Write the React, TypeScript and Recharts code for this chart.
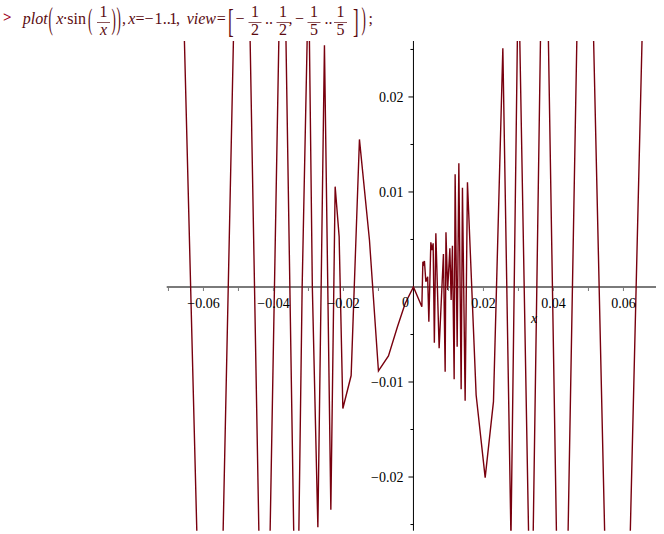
import React from 'react';
import { LineChart, Line, XAxis, YAxis, ReferenceLine, ReferenceDot } from 'recharts';

const X_VALUES = [
  -0.078, -0.06675, -0.06057, -0.05548, -0.05092, -0.0471, -0.04372, -0.0414,
  -0.03817, -0.03668, -0.03403, -0.0329, -0.0318, -0.03015, -0.02985, -0.02889,
  -0.02731, -0.02543, -0.0236, -0.02237, -0.02123, -0.02017, -0.0178, -0.01543,
  -0.01257, -0.01, -0.00714, -0.00457, -0.00237, 0,
  0.0024, 0.00269, 0.00291, 0.00314, 0.00354, 0.00406, 0.0044, 0.00497,
  0.00529, 0.00563, 0.00597, 0.0064, 0.00734, 0.00857, 0.00906, 0.00929,
  0.00977, 0.0104, 0.01077, 0.01114, 0.01163, 0.01191, 0.01249, 0.01297,
  0.01363, 0.014, 0.01477, 0.01543, 0.01791, 0.02049, 0.02286, 0.02554,
  0.02786, 0.02983, 0.03019, 0.03326, 0.03391, 0.03673, 0.03807, 0.04157,
  0.0434, 0.04784, 0.05001, 0.05653, 0.05993, 0.06784, 0.078,
];
const Y_VALUES = [
  0.05, 0.045, -0.045, -0.045, 0.035, 0.035, -0.035, -0.035,
  0.032, 0.032, -0.03, -0.03, 0, 0.03, 0.03, 0,
  -0.02529, 0.02544, -0.02344, 0.01056, 0.0053, -0.01279, -0.00932, 0.01553,
  0.00495, -0.00884, -0.00726, -0.00418, -0.00174, 0,
  -0.00207, 0.00266, 0.00242, 0.00274, 0.00056, 0.00108, -0.00365, 0.00471,
  0.00389, 0.0046, -0.00586, 0.00565, -0.00645, 0.00347, -0.00892, 0.00576,
  -0.00032, 0.00407, -0.00137, 0.00435, -0.00972, 0.01186, -0.00628, 0.01302,
  -0.01077, 0.01045, -0.01197, 0.01102, -0.01137, -0.02007, -0.01207, 0.02513,
  -0.02647, 0.03, 0.03, -0.0335, -0.0335, 0.037, 0.037, -0.042,
  -0.042, 0.05, 0.05, -0.057, -0.057, 0.065, 0.06,
];

const X_DOMAIN = [-0.0705, 0.0693];
const Y_DOMAIN = [-0.02565, 0.02589];

const X_TICKS = [-0.07, -0.06, -0.05, -0.04, -0.03, -0.02, -0.01, 0.01, 0.02, 0.03, 0.04, 0.05, 0.06];
const X_TICK_LABELS = ['', '\u22120.06', '', '\u22120.04', '', '\u22120.02', '', '', '0.02', '', '0.04', '', '0.06'];
const Y_TICKS = [-0.02, -0.01, 0.01, 0.02];
const Y_TICK_LABELS = ['\u22120.02', '\u22120.01', '0.01', '0.02'];
const Y_MINOR_TICKS = [-0.025, -0.015, -0.005, 0.005, 0.015, 0.025];
const ORIGIN_LABEL = '0';
const AXIS_LABEL = 'x';
const AXIS_LABEL_POS = 0.0345;

const DATA = X_VALUES.map((x, i) => ({ x, y: Y_VALUES[i] }));

const CURVE = '#78000E';
const SERIF = '"Liberation Serif", "Times New Roman", serif';
const HEAD = '#5a0a10';

const xTick = (label: string) => (p: any) => (
  <g>
    <line x1={p.cx} y1={p.cy} x2={p.cx} y2={p.cy + 4} stroke="#777" strokeWidth={1} />
    {label ? (
      <text x={p.cx} y={p.cy + 21} textAnchor="middle" fontFamily={SERIF} fontSize={14} fill="#000">{label}</text>
    ) : null}
  </g>
);

const yTick = (label: string, len: number) => (p: any) => (
  <g>
    <line x1={p.cx - len} y1={p.cy} x2={p.cx} y2={p.cy} stroke="#000" strokeWidth={1} />
    {label ? (
      <text x={p.cx - 10} y={p.cy + 5} textAnchor="end" fontFamily={SERIF} fontSize={14} fill="#000">{label}</text>
    ) : null}
  </g>
);

const originLabel = (p: any) => (
  <text x={p.cx - 8} y={p.cy + 20} textAnchor="middle" fontFamily={SERIF} fontSize={14} fill="#000">{ORIGIN_LABEL}</text>
);

const axisLabel = (p: any) => (
  <text x={p.cx} y={p.cy + 36} textAnchor="middle" fontFamily={SERIF} fontStyle="italic" fontSize={14} fill="#000">{AXIS_LABEL}</text>
);

const Paren = ({ x, y, s, ch, sx, sy }: { x: number; y: number; s: number; ch: string; sx: number; sy: number }) => (
  <text transform={`translate(${x},${y}) scale(${sx},${sy})`} fontFamily={SERIF} fontSize={s} fill={HEAD}>{ch}</text>
);

const Frac = ({ cx, num, den, italicDen, w }: { cx: number; num: string; den: string; italicDen?: boolean; w: number }) => (
  <g>
    <text x={cx} y={17} textAnchor="middle" fontFamily={SERIF} fontSize={16} fill={HEAD}>{num}</text>
    <line x1={cx - w / 2} y1={22.5} x2={cx + w / 2} y2={22.5} stroke={HEAD} strokeWidth={0.7} />
    <text x={cx} y={35} textAnchor="middle" fontFamily={SERIF} fontSize={16} fontStyle={italicDen ? 'italic' : 'normal'} fill={HEAD}>{den}</text>
  </g>
);

const Header = () => {
  const t = { fontFamily: SERIF, fontSize: 16, fill: HEAD } as any;
  return (
    <svg width={664} height={44} style={{ position: 'absolute', left: 0, top: 0, pointerEvents: 'none' }}>
      <text x={3} y={22} fontFamily={SERIF} fontSize={15} fontWeight="bold" fill="#a00020">&gt;</text>
      <text x={22.7} y={24} {...t} fontStyle="italic">plot</text>
      <Paren x={48.5} y={29} s={29} ch="(" sx={0.45} sy={1.12} />
      <text x={56.2} y={24} {...t} fontStyle="italic">x</text>
      <text x={62.6} y={24} {...t}>·</text>
      <text x={67.3} y={24} {...t}>sin</text>
      <Paren x={88} y={29} s={29} ch="(" sx={0.45} sy={1.05} />
      <Frac cx={103.5} num="1" den="x" italicDen w={13} />
      <Paren x={111.5} y={29} s={29} ch=")" sx={0.45} sy={1.05} />
      <Paren x={116.5} y={29} s={29} ch=")" sx={0.45} sy={1.12} />
      <text x={122} y={24} {...t}>,</text>
      <text x={128.3} y={24} {...t} fontStyle="italic">x</text>
      <text x={135.6} y={24} {...t}>=</text>
      <text x={144.5} y={24} {...t}>−</text>
      <text x={154.5} y={24} {...t}>1</text>
      <text x={162.8} y={24} {...t}>..</text>
      <text x={169.3} y={24} {...t}>1</text>
      <text x={176} y={24} {...t}>,</text>
      <text x={186.7} y={24} {...t} fontStyle="italic">view</text>
      <text x={216.7} y={24} {...t}>=</text>
      <Paren x={228} y={31.5} s={31} ch="[" sx={0.55} sy={1.1} />
      <text x={235.5} y={24} {...t}>−</text>
      <Frac cx={255} num="1" den="2" w={13} />
      <text x={265} y={24} {...t}>..</text>
      <Frac cx={283} num="1" den="2" w={13} />
      <text x={288.5} y={24} {...t}>,</text>
      <text x={295} y={24} {...t}>−</text>
      <Frac cx={314} num="1" den="5" w={13} />
      <text x={324.5} y={24} {...t}>..</text>
      <Frac cx={340.5} num="1" den="5" w={13} />
      <Paren x={353} y={31.5} s={31} ch="]" sx={0.55} sy={1.1} />
      <Paren x={361.5} y={29} s={29} ch=")" sx={0.45} sy={1.12} />
      <text x={368.5} y={24} {...t}>;</text>
    </svg>
  );
};

export default function App() {
  return (
    <div style={{ position: 'absolute', left: 0, top: 0, width: 664, height: 534, background: '#fff', overflow: 'hidden' }}>
      <div style={{ position: 'absolute', left: 0, top: 0 }}>
        <LineChart width={664} height={534} data={DATA} margin={{ top: 41, right: 8, bottom: 3.3, left: 166.7 }}>
          <XAxis dataKey="x" type="number" domain={X_DOMAIN} allowDataOverflow hide />
          <YAxis dataKey="y" type="number" domain={Y_DOMAIN} allowDataOverflow hide />
          <ReferenceLine y={0} stroke="#7a7a7a" strokeWidth={2} />
          <ReferenceLine x={0} stroke="#000" strokeWidth={1} />
          {X_TICKS.map((v, i) => (
            <ReferenceDot key={'xt' + i} x={v} y={0} r={1} shape={xTick(X_TICK_LABELS[i])} />
          ))}
          {Y_TICKS.map((v, i) => (
            <ReferenceDot key={'yt' + i} x={0} y={v} r={1} shape={yTick(Y_TICK_LABELS[i], 5)} />
          ))}
          {Y_MINOR_TICKS.map((v, i) => (
            <ReferenceDot key={'ym' + i} x={0} y={v} r={1} shape={yTick('', 3)} />
          ))}
          <ReferenceDot x={0} y={0} r={1} shape={originLabel} />
          <ReferenceDot x={AXIS_LABEL_POS} y={0} r={1} shape={axisLabel} />
          <Line
            type="linear"
            dataKey="y"
            stroke={CURVE}
            strokeWidth={1.4}
            dot={false}
            activeDot={false}
            isAnimationActive={false}
          />
        </LineChart>
      </div>
      <Header />
    </div>
  );
}
